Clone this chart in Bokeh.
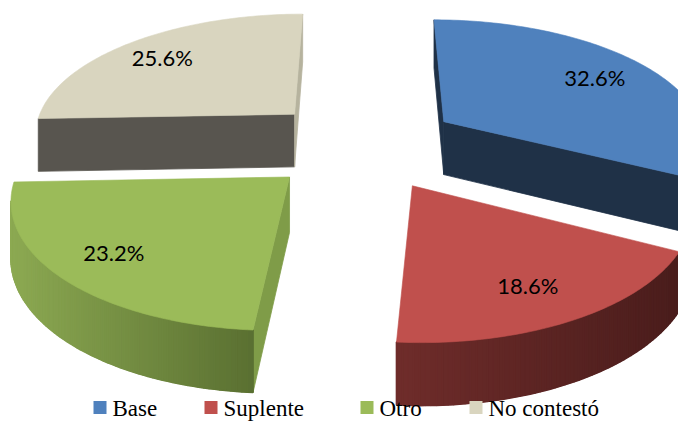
import math
from bokeh.plotting import figure
from bokeh.models import Range1d, ColumnDataSource
from bokeh.core.properties import value
from bokeh.embed import file_html
from bokeh.resources import INLINE

# ---- data ----
categories = ["Base", "Suplente", "Otro", "No contestó"]
values = [32.6, 18.6, 23.2, 25.6]

# ---- styles ----
TOP = ["#4F81BD", "#C0504D", "#9BBB59", "#D9D5BF"]
SIDE_L = ["#1F3147", "#6E2C2A", "#8CA952", "#58554F"]
SIDE_R = ["#1F3147", "#4A1D1C", "#5B7132", "#58554F"]
FACE_START = ["#1F3147", "#5A2422", "#7F9C48", "#58554F"]
FACE_END = ["#1F3147", "#5A2422", "#6E8A3E", "#B6B39E"]

# ---- 3D projection layout ----
CX, CY = 362.0, 144.0
AX, BY = 264.0, 122.0
PERS = 0.14
EXPL = 0.37
DEPTH = 54.0
LABEL_R = 0.77
LABEL_DX = -5
LEG_X = [93, 204, 360, 469]
LEG_Y = 407


def proj(X, Y):
    s = 1.0 / (1.0 + PERS * Y)
    return (CX + AX * X * s, CY - BY * Y * s, DEPTH * s ** 0.75)


def hex2rgb(h):
    h = h.lstrip("#")
    return [int(h[k:k + 2], 16) for k in (0, 2, 4)]


def mix(c1, c2, t):
    a, b = hex2rgb(c1), hex2rgb(c2)
    return "#%02x%02x%02x" % tuple(int(round(a[k] + (b[k] - a[k]) * t)) for k in range(3))


def area(pts):
    s = 0.0
    for k in range(len(pts)):
        x1, y1 = pts[k][0], pts[k][1]
        x2, y2 = pts[(k + 1) % len(pts)][0], pts[(k + 1) % len(pts)][1]
        s += x1 * y2 - x2 * y1
    return s / 2.0


def quad(p, q):
    return [(p[0], p[1]), (q[0], q[1]), (q[0], q[1] + q[2]), (p[0], p[1] + p[2])]


total = sum(values)
slices = []
start = 0.0
for i, v in enumerate(values):
    span = 360.0 * v / total
    a0 = start
    start += span
    mid = math.radians(a0 + span / 2)
    ox, oy = EXPL * math.sin(mid), EXPL * math.cos(mid)
    n = max(8, int(span))
    angs = [math.radians(a0 + span * k / n) for k in range(n + 1)]
    arc = [proj(ox + math.sin(a), oy + math.cos(a)) for a in angs]
    apex = proj(ox, oy)
    lab = proj(ox + LABEL_R * math.sin(mid), oy + LABEL_R * math.cos(mid))
    slices.append(dict(i=i, oy=oy, apex=apex, arc=arc, lab=lab))

# painter's order: back slices first; within a slice, visible sides then top
slices.sort(key=lambda d: -d["oy"])
src_all = dict(xs=[], ys=[], fill=[], lw=[])
for d in slices:
    i, apex, arc = d["i"], d["apex"], d["arc"]
    polys = []
    qs = quad(apex, arc[0])
    if area(qs) < 0:
        polys.append((qs, FACE_START[i], 0.8))
    curved = [quad(arc[k], arc[k + 1]) for k in range(len(arc) - 1)]
    curved = [q for q in curved if area(q) < 0]
    if curved:
        xmin = min(q[0][0] for q in curved)
        xmax = max(q[1][0] for q in curved)
        band = [q[0] for q in curved] + [curved[-1][1], curved[-1][2]] + [q[3] for q in reversed(curved)]
        polys.append((band, mix(SIDE_L[i], SIDE_R[i], 0.5), 0.5))
        for q in curved:
            xm = (q[0][0] + q[1][0]) / 2
            t = 0.0 if xmax == xmin else (xm - xmin) / (xmax - xmin)
            polys.append((q, mix(SIDE_L[i], SIDE_R[i], t), 1.6))
    qe = quad(arc[-1], apex)
    if area(qe) < 0:
        polys.append((qe, FACE_END[i], 0.8))
    polys.append(([(apex[0], apex[1])] + [(q[0], q[1]) for q in arc], TOP[i], 0.6))
    for poly, col, lw in polys:
        src_all["xs"].append([pt[0] for pt in poly])
        src_all["ys"].append([pt[1] for pt in poly])
        src_all["fill"].append(col)
        src_all["lw"].append(lw)

p = figure(width=678, height=423, x_range=Range1d(0, 678), y_range=Range1d(423, 0),
           output_backend="svg", toolbar_location=None, min_border=0)
p.axis.visible = False
p.grid.visible = False
p.outline_line_color = None
p.background_fill_color = "white"

src = ColumnDataSource(src_all)
p.patches(xs="xs", ys="ys", fill_color="fill", line_color="fill", line_width="lw", source=src)

lsrc = ColumnDataSource(dict(
    x=[d["lab"][0] + LABEL_DX for d in slices],
    y=[d["lab"][1] for d in slices],
    t=["%.1f%%" % values[d["i"]] for d in slices],
))
p.text(x="x", y="y", text="t", source=lsrc, text_font=value("Lato"), text_font_size="22px",
       text_align="center", text_baseline="middle", text_color="black")

gsrc = ColumnDataSource(dict(
    x=[lx + 6.5 for lx in LEG_X], y=[LEG_Y] * len(LEG_X), c=TOP,
    tx=[lx + 19 for lx in LEG_X], ty=[LEG_Y + 1] * len(LEG_X), t=categories,
))
p.scatter(x="x", y="y", marker="square", size=13, fill_color="c", line_color=None, source=gsrc)
p.text(x="tx", y="ty", text="t", source=gsrc, text_font=value("Liberation Serif"),
       text_font_size="23px", text_align="left", text_baseline="middle", text_color="black")

open("out.html", "w").write(file_html(p, INLINE))
